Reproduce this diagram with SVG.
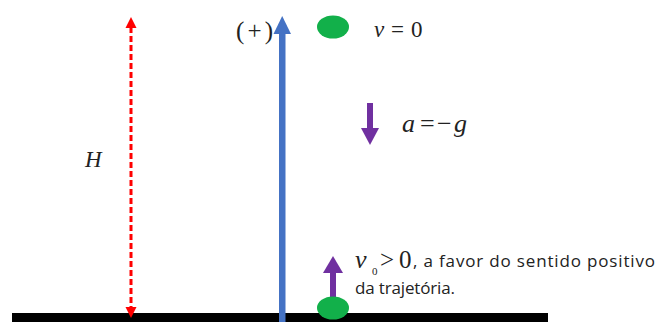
<svg xmlns="http://www.w3.org/2000/svg" width="656" height="322" viewBox="0 0 656 322">
<style>
.math{font-family:"Liberation Serif","DejaVu Serif",serif;fill:#222}
.it{font-style:italic}
.sans{font-family:"Open Sans","Noto Sans",sans-serif;font-size:17px;fill:#222}
.ball{fill:#12b04a}
</style>
<rect width="656" height="322" fill="#fff"/>
<g id="ground"><rect x="12" y="313" width="536" height="9" fill="#000"/></g>
<g id="connectors">
  <g id="height-arrow">
    <line x1="131" y1="27" x2="131" y2="308" stroke="#f00" stroke-width="3" stroke-dasharray="6,3"/>
    <polygon points="131,17 125.5,28 136.5,28" fill="#f00"/>
    <polygon points="131,318 125.5,307 136.5,307" fill="#f00"/>
  </g>
  <g id="axis-arrow">
    <rect x="279" y="32" width="6.5" height="290" fill="#4472c4"/>
    <polygon points="282.2,16 273.5,34 291,34" fill="#4472c4"/>
  </g>
  <g id="accel-arrow">
    <rect x="367" y="103" width="6" height="27" fill="#7030a0"/>
    <polygon points="370,145 361,128 379,128" fill="#7030a0"/>
  </g>
  <g id="v0-arrow">
    <rect x="330" y="271" width="6" height="30" fill="#7030a0"/>
    <polygon points="333,256 323,273 343,273" fill="#7030a0"/>
  </g>
</g>
<g id="top-ball"><ellipse class="ball" cx="333" cy="27" rx="16" ry="11.5"/></g>
<g id="bottom-ball"><ellipse class="ball" cx="333" cy="308" rx="16" ry="11.5"/></g>
<g id="labels">
  <text class="math" x="236" y="39" font-size="25" textLength="37" lengthAdjust="spacing">(+)</text>
  <text class="math" font-size="23" y="37"><tspan class="it" x="374">v</tspan><tspan x="391">=</tspan><tspan x="411">0</tspan></text>
  <text class="math" font-size="26" y="132"><tspan class="it" x="402">a</tspan><tspan x="420">=</tspan><tspan x="437">−</tspan><tspan class="it" x="454">g</tspan></text>
  <text class="math it" x="85" y="167" font-size="23">H</text>
  <text class="math" y="268"><tspan class="it" x="355" font-size="26">v</tspan><tspan x="372" y="275" font-size="11">0</tspan><tspan x="380" y="268" font-size="25">&gt;</tspan><tspan x="399" font-size="25">0</tspan></text>
  <text class="sans" x="413" y="267" textLength="242" lengthAdjust="spacing">, a favor do sentido positivo</text>
  <text class="sans" x="355" y="294" textLength="100" lengthAdjust="spacing">da trajetória.</text>
</g>
</svg>
